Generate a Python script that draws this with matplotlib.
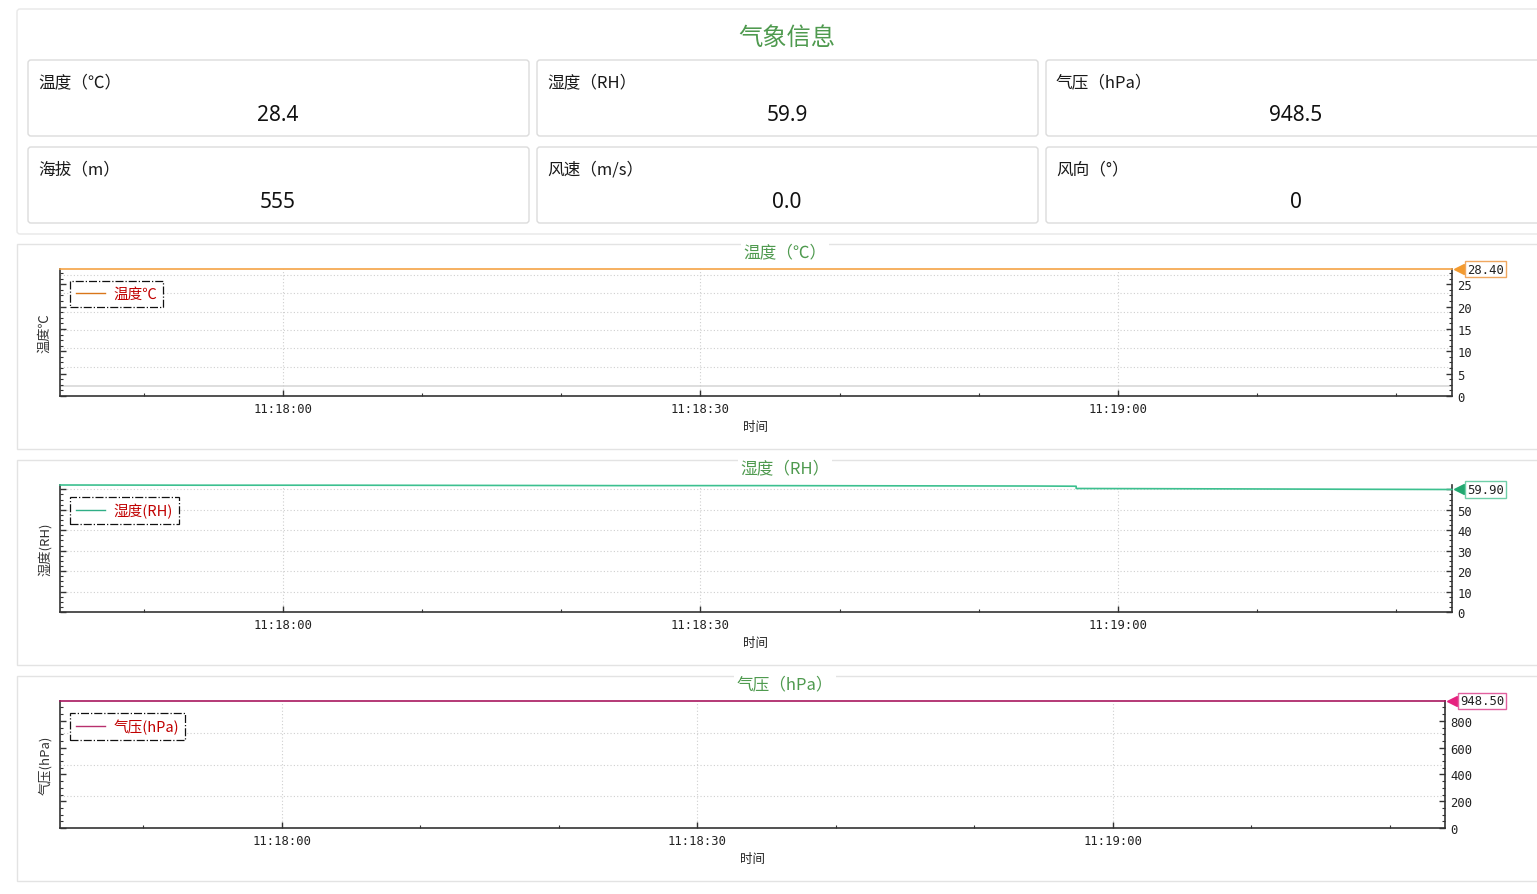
import pandas as pd
import matplotlib
matplotlib.use("Agg")
import matplotlib.pyplot as plt
import matplotlib.dates as mdates
from matplotlib.patches import FancyBboxPatch, Rectangle
from matplotlib.ticker import MultipleLocator, FuncFormatter
from matplotlib.transforms import offset_copy

plt.rcParams['font.family'] = ['Noto Sans CJK SC', 'DejaVu Sans']

# summary cards
card_labels = ["温度（℃）", "湿度（RH）", "气压（hPa）", "海拔（m）", "风速（m/s）", "风向（°）"]
card_values = ["28.4", "59.9", "948.5", "555", "0.0", "0"]

# time series
times = ["11:17:44", "11:17:54", "11:18:04", "11:18:14", "11:18:24", "11:18:34", "11:18:44",
         "11:18:54", "11:18:57", "11:18:57", "11:19:08", "11:19:18", "11:19:24"]
temp = [28.4, 28.4, 28.4, 28.4, 28.4, 28.4, 28.4, 28.4, 28.4, 28.4, 28.4, 28.4, 28.4]
hum = [62.1, 62.0, 62.0, 61.9, 61.8, 61.8, 61.7, 61.6, 61.5, 60.4, 60.2, 60.0, 59.9]
pres = [948.5, 948.5, 948.5, 948.5, 948.5, 948.5, 948.5, 948.5, 948.5, 948.5, 948.5, 948.5, 948.5]
x_start, x_end = "11:17:44", "11:19:24"

GREEN = "#4f9a4f"
MONO = ['DejaVu Sans Mono']

W, H = 1537, 895
fig = plt.figure(figsize=(W / 100, H / 100), dpi=100)
fig.patch.set_facecolor("white")

bg = fig.add_axes([0, 0, 1, 1], zorder=0)
bg.set_xlim(0, W)
bg.set_ylim(H, 0)
bg.axis("off")

def box(x, y, w, h, ec="#e3e3e3"):
    bg.add_patch(FancyBboxPatch((x, y), w, h, boxstyle="round,pad=0,rounding_size=3",
                                fc="white", ec=ec, lw=1.0))

# top container + cards
box(17, 10, 1540, 225, ec="#e8e8e8")
bg.text(787, 38, "气象信息", fontsize=17.5, color=GREEN, ha="center", va="center")
col_x = [28, 537, 1046]
row_y = [61, 148]
for i, (lab, val) in enumerate(zip(card_labels, card_values)):
    cx = col_x[i % 3]
    cy = row_y[i // 3]
    box(cx, cy, 501, 76, ec="#dcdcdc")
    bg.text(cx + 10, cy + 22, lab, fontsize=12, color="#1a1a1a", ha="left", va="center")
    bg.text(cx + 250, cy + 54, val, fontsize=15, color="#111111", ha="center", va="center",
            family=['Noto Sans', 'DejaVu Sans'])

t = mdates.date2num(pd.to_datetime(["2024-01-01 " + s for s in times]))
x0 = mdates.date2num(pd.to_datetime("2024-01-01 " + x_start))
x1 = mdates.date2num(pd.to_datetime("2024-01-01 " + x_end))

charts = [
    dict(title="温度（℃）", ylabel="温度℃", legend="温度℃", data=temp, top=245,
         ax=(60, 270, 1392, 127), major=5, minor=1.25, line="#f5a345", leg="#d9761a",
         tri="#f39a2e", boxc="#f0a860",
         grid=[0.953, 0.8125, 0.664, 0.516, 0.375, 0.227], solid=[0.078]),
    dict(title="湿度（RH）", ylabel="湿度(RH)", legend="湿度(RH)", data=hum, top=461,
         ax=(60, 486, 1392, 127), major=10, minor=2.5, line="#3cc08f", leg="#2fae86",
         tri="#21a870", boxc="#6fcfa8",
         grid=[0.965, 0.804, 0.643, 0.482, 0.32, 0.16], solid=[]),
    dict(title="气压（hPa）", ylabel="气压(hPa)", legend="气压(hPa)", data=pres, top=677,
         ax=(60, 702, 1385, 127), major=200, minor=50, line="#a8175f", leg="#b8306e",
         tri="#e6217f", boxc="#e2609f",
         grid=[0.75, 0.5, 0.25], solid=[]),
]

for c in charts:
    # panel
    bg.add_patch(Rectangle((17, c["top"]), 1540, 205, fc="white", ec="#e3e3e3", lw=1.0))
    bg.text(785, c["top"] + 8, c["title"], fontsize=12, color=GREEN, ha="center", va="center",
            bbox=dict(fc="white", ec="none", pad=2))

    lx, ly, lw_, lh = c["ax"]
    ax = fig.add_axes([lx / W, 1 - (ly + lh) / H, lw_ / W, lh / H], zorder=2)
    ax.patch.set_alpha(0)
    ax.plot(t, c["data"], color=c["line"], lw=1.2, zorder=3, clip_on=False)
    ax.set_xlim(x0, x1)
    top = max(c["data"])
    ax.set_ylim(0, top)

    # grid
    for g in c["grid"]:
        ax.plot([0, 1], [g, g], transform=ax.transAxes, color="#cfcfcf", lw=0.8, ls=(0, (1, 2)), zorder=1)
    for g in c["solid"]:
        ax.plot([0, 1], [g, g], transform=ax.transAxes, color="#d8d8d8", lw=1.2, zorder=1)
    ax.xaxis.set_major_locator(mdates.SecondLocator(bysecond=[0, 30]))
    ax.xaxis.set_minor_locator(mdates.SecondLocator(bysecond=range(0, 60, 10)))
    ax.xaxis.set_major_formatter(mdates.DateFormatter("%H:%M:%S"))
    ax.grid(axis="x", which="major", color="#cfcfcf", lw=0.8, ls=(0, (1, 2)), zorder=1)

    # spines
    ax.spines["top"].set_visible(False)
    for s in ["left", "bottom", "right"]:
        ax.spines[s].set_color("#333333")
        ax.spines[s].set_linewidth(1.2)

    ax.yaxis.set_major_locator(MultipleLocator(c["major"]))
    ax.yaxis.set_minor_locator(MultipleLocator(c["minor"]))
    # the label of the tick hidden behind the last-value box is not shown
    last = c["data"][-1]
    span = top
    ax.yaxis.set_major_formatter(FuncFormatter(
        lambda v, p, last=last, span=span: "" if abs(v - last) < 0.05 * span else f"{v:g}"))
    ax.tick_params(axis="y", which="both", left=True, right=True, labelleft=False, labelright=True,
                   direction="in", colors="#333333")
    ax.tick_params(axis="y", which="major", length=4, width=1.0, pad=4)
    ax.tick_params(axis="y", which="minor", length=2.5, width=0.8)
    ax.tick_params(axis="x", which="major", direction="in", length=4, width=1.0, pad=4, colors="#333333")
    ax.tick_params(axis="x", which="minor", direction="in", length=2.5, width=0.8, colors="#333333")
    for lab in ax.get_yticklabels():
        lab.set_family(MONO)
        lab.set_fontsize(8.8)
        lab.set_color("#222222")
    for lab in ax.get_xticklabels():
        lab.set_family(MONO)
        lab.set_fontsize(8.8)
        lab.set_color("#222222")

    ax.set_ylabel(c["ylabel"], fontsize=9.5, color="#333333", labelpad=6)
    ax.set_xlabel("时间", fontsize=9, color="#222222", labelpad=4)

    # legend
    handle, = ax.plot([], [], color=c["leg"], lw=1.0)
    leg = ax.legend([handle], [c["legend"]], loc="upper left", bbox_to_anchor=(0.007, 0.905),
                    borderaxespad=0, fancybox=False, framealpha=1, edgecolor="#111111",
                    handlelength=2.0, handletextpad=0.6, borderpad=0.4, fontsize=10.5)
    leg.get_frame().set_linestyle("-.")
    leg.get_frame().set_linewidth(0.9)
    for txt in leg.get_texts():
        txt.set_color("#c00000")

    # last-value marker
    tr = ax.get_yaxis_transform()
    ax.plot([1.0], [last], marker="<", ms=6.5, color=c["tri"], clip_on=False, zorder=5,
            transform=offset_copy(tr, fig=fig, x=7, y=0, units="dots"))
    ax.text(1.0, last, f"{last:.2f}", transform=offset_copy(tr, fig=fig, x=15, y=0, units="dots"),
            ha="left", va="center", fontsize=8.8, family=MONO, color="#222222", zorder=6,
            bbox=dict(fc="white", ec=c["boxc"], lw=1.0, pad=1.4), clip_on=False)

fig.savefig("out.png", dpi=100)
